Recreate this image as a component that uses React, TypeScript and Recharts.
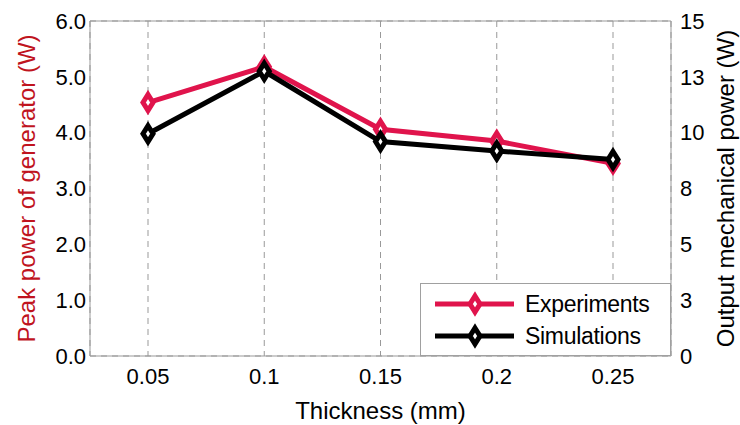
import { CartesianGrid, Line, LineChart, ReferenceLine, XAxis, YAxis } from "recharts"

const thickness = ["0.05", "0.1", "0.15", "0.2", "0.25"]
// Experiments read against the left axis (W)
const experiments = [4.54, 5.18, 4.06, 3.85, 3.45]
// Simulations read against the right axis (W)
const simulations = [9.95, 12.75, 9.6, 9.18, 8.8]
const leftTicks = [0, 1, 2, 3, 4, 5, 6]
const rightTicks = [0, 2.5, 5, 7.5, 10, 12.5, 15]
const seriesNames = ["Experiments", "Simulations"]

const data = thickness.map((t, i) => ({
  t,
  experiments: experiments[i],
  simulations: simulations[i],
}))

const RED = "#e0144c"
const FONT = "'Liberation Sans', Arial, sans-serif"

function Diamond(props: any) {
  const { cx, cy, stroke } = props
  if (cx == null || cy == null) return null
  return (
    <path
      d={`M${cx},${cy - 8} L${cx + 5},${cy} L${cx},${cy + 8} L${cx - 5},${cy} Z`}
      fill="#fff"
      stroke={stroke}
      strokeWidth={5}
      strokeLinejoin="miter"
    />
  )
}

function SideLabel(props: any) {
  const { viewBox, posX, text, color } = props
  const cy = viewBox.y + viewBox.height / 2
  return (
    <text
      x={posX}
      y={cy}
      transform={`rotate(-90 ${posX} ${cy})`}
      textAnchor="middle"
      dominantBaseline="central"
      fill={color}
      fontSize={24}
      fontFamily={FONT}
    >
      {text}
    </text>
  )
}

function LegendBox() {
  const colors = [RED, "#000"]
  return (
    <div
      style={{
        position: "absolute",
        left: 420,
        top: 283,
        width: 251,
        height: 73,
        boxSizing: "border-box",
        border: "1px solid #a0a0a0",
        background: "#fff",
        fontFamily: FONT,
        fontSize: 23,
        paddingTop: 4,
      }}
    >
      {seriesNames.map((name, i) => (
        <div key={name} style={{ display: "flex", alignItems: "center", height: 32 }}>
          <svg width={104} height={30} style={{ flex: "none" }}>
            <line x1={14} y1={15} x2={93} y2={15} stroke={colors[i]} strokeWidth={5} />
            <Diamond cx={54} cy={15} stroke={colors[i]} />
          </svg>
          <span style={{ color: "#000", letterSpacing: -0.3 }}>{name}</span>
        </div>
      ))}
    </div>
  )
}

export default function App() {
  return (
    <div style={{ position: "absolute", left: 0, top: 0, width: 740, height: 425, background: "#fff" }}>
      <LineChart width={740} height={425} data={data} margin={{ top: 21, right: 0, bottom: 0, left: 0 }}>
        <CartesianGrid stroke="#999" strokeDasharray="6 5" strokeWidth={1} />
        <XAxis
          dataKey="t"
          height={69}
          padding={{ left: 58, right: 58 }}
          tickLine={false}
          tickSize={0}
          tickMargin={12}
          axisLine={{ stroke: "#999" }}
          tick={{ fill: "#000", fontSize: 22, fontFamily: FONT }}
          label={{
            value: "Thickness (mm)",
            position: "insideBottom",
            offset: 6,
            fill: "#000",
            fontSize: 24,
            fontFamily: FONT,
          }}
        />
        <YAxis
          yAxisId="left"
          width={90}
          domain={[0, 6]}
          ticks={leftTicks}
          tickFormatter={(v: number) => v.toFixed(1)}
          tickLine={false}
          tickSize={0}
          tickMargin={4}
          axisLine={{ stroke: "#999" }}
          tick={{ fill: "#000", fontSize: 22, fontFamily: FONT }}
          label={<SideLabel posX={26} text="Peak power of generator (W)" color="#c0141e" />}
        />
        <YAxis
          yAxisId="right"
          orientation="right"
          width={69}
          domain={[0, 15]}
          ticks={rightTicks}
          tickFormatter={(v: number) => String(Math.round(v))}
          tickLine={false}
          tickSize={0}
          tickMargin={9}
          axisLine={{ stroke: "#999" }}
          tick={{ fill: "#000", fontSize: 22, fontFamily: FONT, textAnchor: "start" }}
          label={<SideLabel posX={725} text="Output mechanical power (W)" color="#000" />}
        />
        <ReferenceLine yAxisId="left" y={6} stroke="#999" strokeWidth={1} />
        <Line
          yAxisId="left"
          dataKey="experiments"
          stroke={RED}
          strokeWidth={5}
          dot={<Diamond stroke={RED} />}
          activeDot={false}
          isAnimationActive={false}
        />
        <Line
          yAxisId="right"
          dataKey="simulations"
          stroke="#000"
          strokeWidth={5}
          dot={<Diamond stroke="#000" />}
          activeDot={false}
          isAnimationActive={false}
        />
      </LineChart>
      <LegendBox />
    </div>
  )
}
